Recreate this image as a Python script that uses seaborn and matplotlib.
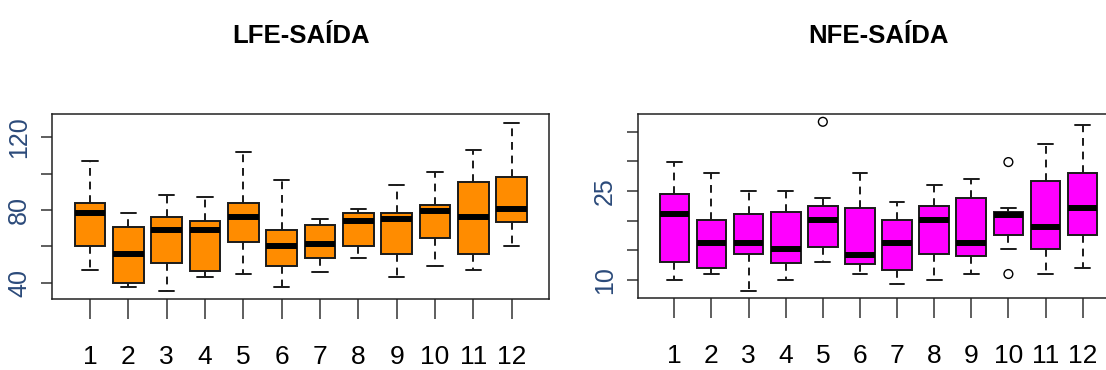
import pandas as pd
import matplotlib
matplotlib.use('Agg')
import matplotlib.pyplot as plt
import seaborn as sns

meses = list(range(1, 13))
rotulos = [str(m) for m in meses]

# LFE-SAÍDA: bigode inferior, Q1, mediana, Q3, bigode superior
lfe_min = [46.8, 37.4, 35.4, 43.3, 44.6, 37.6, 45.7, 53.3, 43.3, 49.0, 46.9, 60.3]
lfe_q1 = [60.3, 40.0, 51.0, 46.6, 62.1, 49.0, 53.3, 60.3, 55.7, 64.7, 55.7, 73.6]
lfe_med = [78.2, 55.7, 69.2, 69.2, 76.0, 60.3, 61.2, 73.8, 74.9, 79.3, 76.0, 80.5]
lfe_q3 = [83.8, 70.5, 76.0, 73.8, 83.8, 69.2, 71.6, 78.2, 78.2, 82.9, 95.3, 98.4]
lfe_max = [107.2, 78.2, 88.4, 87.1, 112.0, 96.3, 75.1, 80.7, 93.9, 101.0, 113.0, 127.7]

# NFE-SAÍDA
nfe_min = [10.0, 11.0, 8.2, 10.0, 13.1, 11.0, 9.3, 10.0, 11.0, 15.2, 11.0, 12.0]
nfe_q1 = [13.1, 12.0, 14.4, 12.8, 15.6, 12.7, 11.6, 14.4, 14.1, 17.6, 15.2, 17.6]
nfe_med = [21.2, 16.2, 16.2, 15.2, 20.1, 14.2, 16.2, 20.1, 16.2, 21.0, 19.0, 22.1]
nfe_q3 = [24.5, 20.1, 21.2, 21.5, 22.5, 22.2, 20.1, 22.5, 23.9, 21.5, 26.7, 28.1]
nfe_max = [29.9, 28.1, 25.0, 25.0, 23.9, 28.1, 23.2, 26.0, 27.0, 22.2, 33.0, 36.1]

# pontos atípicos (NFE)
nfe_out_mes = [5, 10, 10]
nfe_out_val = [36.7, 29.9, 11.0]

lfe_yticks = [40, 60, 80, 100, 120]
lfe_ylabels = ['40', '', '80', '', '120']
nfe_yticks = [10, 15, 20, 25, 30, 35]
nfe_ylabels = ['10', '', '', '25', '', '']


def longo(mins, q1s, meds, q3s, maxs):
    linhas = []
    for m, a, b, c, d, e in zip(meses, mins, q1s, meds, q3s, maxs):
        for v in (a, b, c, d, e):
            linhas.append({'mes': m, 'valor': v})
    return pd.DataFrame(linhas)


sns.set_style('white')
plt.rcParams['font.family'] = ['Liberation Sans', 'DejaVu Sans']

fig = plt.figure(figsize=(11.06, 3.70), dpi=100)
ax1 = fig.add_axes([52.4 / 1106, 71 / 370, 497 / 1106, 185 / 370])
ax2 = fig.add_axes([638 / 1106, 72 / 370, 481 / 1106, 184.5 / 370])

estilo = dict(
    native_scale=True, width=0.8, saturation=1, whis=1.5, fliersize=0,
    linecolor='#1a1a1a', linewidth=1.4,
    whiskerprops={'linestyle': (0, (4, 3))},
    medianprops={'linewidth': 4.3, 'color': 'black', 'solid_capstyle': 'butt'},
)

sns.boxplot(data=longo(lfe_min, lfe_q1, lfe_med, lfe_q3, lfe_max), x='mes', y='valor',
            color='#FF8C00', ax=ax1, **estilo)
sns.boxplot(data=longo(nfe_min, nfe_q1, nfe_med, nfe_q3, nfe_max), x='mes', y='valor',
            color='#FF00FF', ax=ax2, **estilo)
sns.scatterplot(x=nfe_out_mes, y=nfe_out_val, ax=ax2, marker='o', s=40,
                facecolors='none', edgecolor='black', linewidth=1, zorder=3, legend=False)

for ax, titulo, yt, yl, lim in [(ax1, 'LFE-SAÍDA', lfe_yticks, lfe_ylabels, (31.0, 132.8)),
                                (ax2, 'NFE-SAÍDA', nfe_yticks, nfe_ylabels, (6.95, 38.1))]:
    ax.set_xlim(0.02, 12.98)
    ax.set_ylim(*lim)
    ax.set_xticks(meses)
    ax.set_xticklabels(rotulos)
    ax.set_yticks(yt)
    ax.set_yticklabels(yl)
    ax.set_xlabel('')
    ax.set_ylabel('')
    ax.set_title(titulo, fontsize=18.5, fontweight='bold', color='black', pad=51)
    for s in ax.spines.values():
        s.set_visible(True)
        s.set_linewidth(1.1)
        s.set_color('#222222')
    ax.tick_params(axis='x', bottom=True, length=14.4, width=1.1, color='#333333',
                   pad=18.5, labelsize=19, labelcolor='black')
    ax.tick_params(axis='y', left=True, length=7.7, width=1.1, color='#333333',
                   pad=7.5, labelsize=18, labelcolor='#2b4a7a')
    for lbl in ax.get_yticklabels():
        lbl.set_rotation(90)
        lbl.set_va('center')

fig.savefig('out.png', dpi=100)
